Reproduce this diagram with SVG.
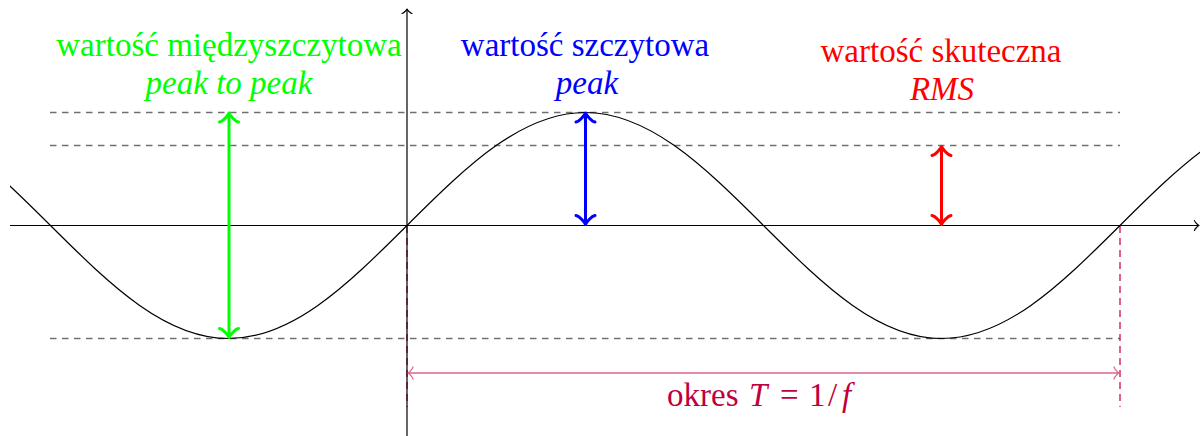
<svg xmlns="http://www.w3.org/2000/svg" width="1200" height="436" viewBox="0 0 1200 436">
  <style>
    .lbl { font-size: 33px; text-anchor: middle; }
    .it { font-style: italic; }
    .guide { fill: none; stroke: #707070; stroke-width: 1.3; stroke-dasharray: 6.5 5.5; }
    .axis { fill: none; stroke: #000; stroke-width: 1.2; }
    .curve { fill: none; stroke: #000; stroke-width: 1.2; }
    .tip { fill: none; stroke-linecap: round; stroke-linejoin: round; }
  </style>
  <defs>
    <marker id="tipAxis" markerUnits="userSpaceOnUse" markerWidth="20" markerHeight="20" viewBox="-10 -10 20 20" refX="0" refY="0" orient="auto-start-reverse" overflow="visible">
      <path class="tip" d="M -4.5,-5 C -4.2,-3.2 -1,-0.4 0,0 C -1,0.4 -4.2,3.2 -4.5,5" stroke="#000" stroke-width="1.2"/>
    </marker>
    <marker id="tipG" markerUnits="userSpaceOnUse" markerWidth="30" markerHeight="30" viewBox="-15 -15 30 30" refX="0" refY="0" orient="auto-start-reverse" overflow="visible">
      <path class="tip" d="M -9,-9.5 C -8.4,-6 -1.8,-0.6 0,0 C -1.8,0.6 -8.4,6 -9,9.5" stroke="#00FF00" stroke-width="3"/>
    </marker>
    <marker id="tipB" markerUnits="userSpaceOnUse" markerWidth="30" markerHeight="30" viewBox="-15 -15 30 30" refX="0" refY="0" orient="auto-start-reverse" overflow="visible">
      <path class="tip" d="M -9,-9.5 C -8.4,-6 -1.8,-0.6 0,0 C -1.8,0.6 -8.4,6 -9,9.5" stroke="#0000FF" stroke-width="3"/>
    </marker>
    <marker id="tipR" markerUnits="userSpaceOnUse" markerWidth="30" markerHeight="30" viewBox="-15 -15 30 30" refX="0" refY="0" orient="auto-start-reverse" overflow="visible">
      <path class="tip" d="M -9,-9.5 C -8.4,-6 -1.8,-0.6 0,0 C -1.8,0.6 -8.4,6 -9,9.5" stroke="#FF0000" stroke-width="3"/>
    </marker>
    <marker id="tipP" markerUnits="userSpaceOnUse" markerWidth="20" markerHeight="20" viewBox="-10 -10 20 20" refX="0" refY="0" orient="auto-start-reverse" overflow="visible">
      <path class="tip" d="M -5,-6 C -4.6,-3.8 -1,-0.4 0,0 C -1,0.4 -4.6,3.8 -5,6" stroke="#D9668C" stroke-width="1.3"/>
    </marker>
    <clipPath id="plotClip">
      <rect x="10" y="0" width="1190" height="436"/>
    </clipPath>
  </defs>

  <g id="guides">
    <line class="guide" x1="50" y1="112.5" x2="1120" y2="112.5"/>
    <line class="guide" x1="50" y1="145.5" x2="1120" y2="145.5"/>
    <line class="guide" x1="50" y1="338.5" x2="1120" y2="338.5"/>
  </g>

  <g id="period-guides" fill="none" stroke="#C8104A" stroke-width="1.3" stroke-dasharray="7 5">
    <line x1="407" y1="226" x2="407" y2="407"/>
    <line x1="1120" y1="226" x2="1120" y2="407"/>
  </g>

  <g id="axes">
    <line class="axis" x1="10" y1="225.5" x2="1199" y2="225.5" marker-end="url(#tipAxis)"/>
    <line class="axis" x1="407" y1="436" x2="407" y2="9" marker-end="url(#tipAxis)"/>
  </g>

  <g id="sine" clip-path="url(#plotClip)">
    <path class="curve" transform="translate(0,-0.5)" d="M -38.625,146.10
      C -8.917,167.02 20.792,196.42 50.5,226
      C 80.208,255.58 109.917,284.98 139.625,305.90
      C 169.333,326.82 199.042,339 228.75,339
      C 258.458,339 288.167,326.82 317.875,305.90
      C 347.583,284.98 377.292,255.58 407,226
      C 436.708,196.42 466.417,167.02 496.125,146.10
      C 525.833,125.18 555.542,113 585.25,113
      C 614.958,113 644.667,125.18 674.375,146.10
      C 704.083,167.02 733.792,196.42 763.5,226
      C 793.208,255.58 822.917,284.98 852.625,305.90
      C 882.333,326.82 912.042,339 941.75,339
      C 971.458,339 1001.167,326.82 1030.875,305.90
      C 1060.583,284.98 1090.292,255.58 1120,226
      C 1149.708,196.42 1179.417,167.02 1209.125,146.10"/>
  </g>

  <g id="connectors" fill="none">
    <line id="arrow-p2p" x1="229" y1="113" x2="229" y2="337.5" stroke="#00FF00" stroke-width="3" marker-start="url(#tipG)" marker-end="url(#tipG)"/>
    <line id="arrow-peak" x1="585.5" y1="113" x2="585.5" y2="224.5" stroke="#0000FF" stroke-width="3" marker-start="url(#tipB)" marker-end="url(#tipB)"/>
    <line id="arrow-rms" x1="941.5" y1="146.5" x2="941.5" y2="224.5" stroke="#FF0000" stroke-width="3" marker-start="url(#tipR)" marker-end="url(#tipR)"/>
    <line id="arrow-period" x1="408" y1="373" x2="1119" y2="373" stroke="#D9668C" stroke-width="1.5" marker-start="url(#tipP)" marker-end="url(#tipP)"/>
  </g>

  <g id="label-p2p" fill="#00FF00" font-family="Times New Roman, serif">
    <text class="lbl" x="229" y="56">wartość międzyszczytowa</text>
    <text class="lbl it" x="229" y="94">peak to peak</text>
  </g>
  <g id="label-peak" fill="#0000FF" font-family="Times New Roman, serif">
    <text class="lbl" x="585" y="56">wartość szczytowa</text>
    <text class="lbl it" x="587" y="94">peak</text>
  </g>
  <g id="label-rms" fill="#FF0000" font-family="Times New Roman, serif">
    <text class="lbl" x="941" y="62">wartość skuteczna</text>
    <text class="lbl it" x="942" y="100">RMS</text>
  </g>
  <g id="label-period" fill="#BF0040" font-family="Times New Roman, serif">
    <text class="lbl" style="text-anchor:start" y="406"><tspan x="667">okres</tspan><tspan x="749" font-style="italic">T</tspan><tspan x="780">=</tspan><tspan x="809">1</tspan><tspan x="828">/</tspan><tspan x="842" font-style="italic">f</tspan></text>
  </g>
</svg>
